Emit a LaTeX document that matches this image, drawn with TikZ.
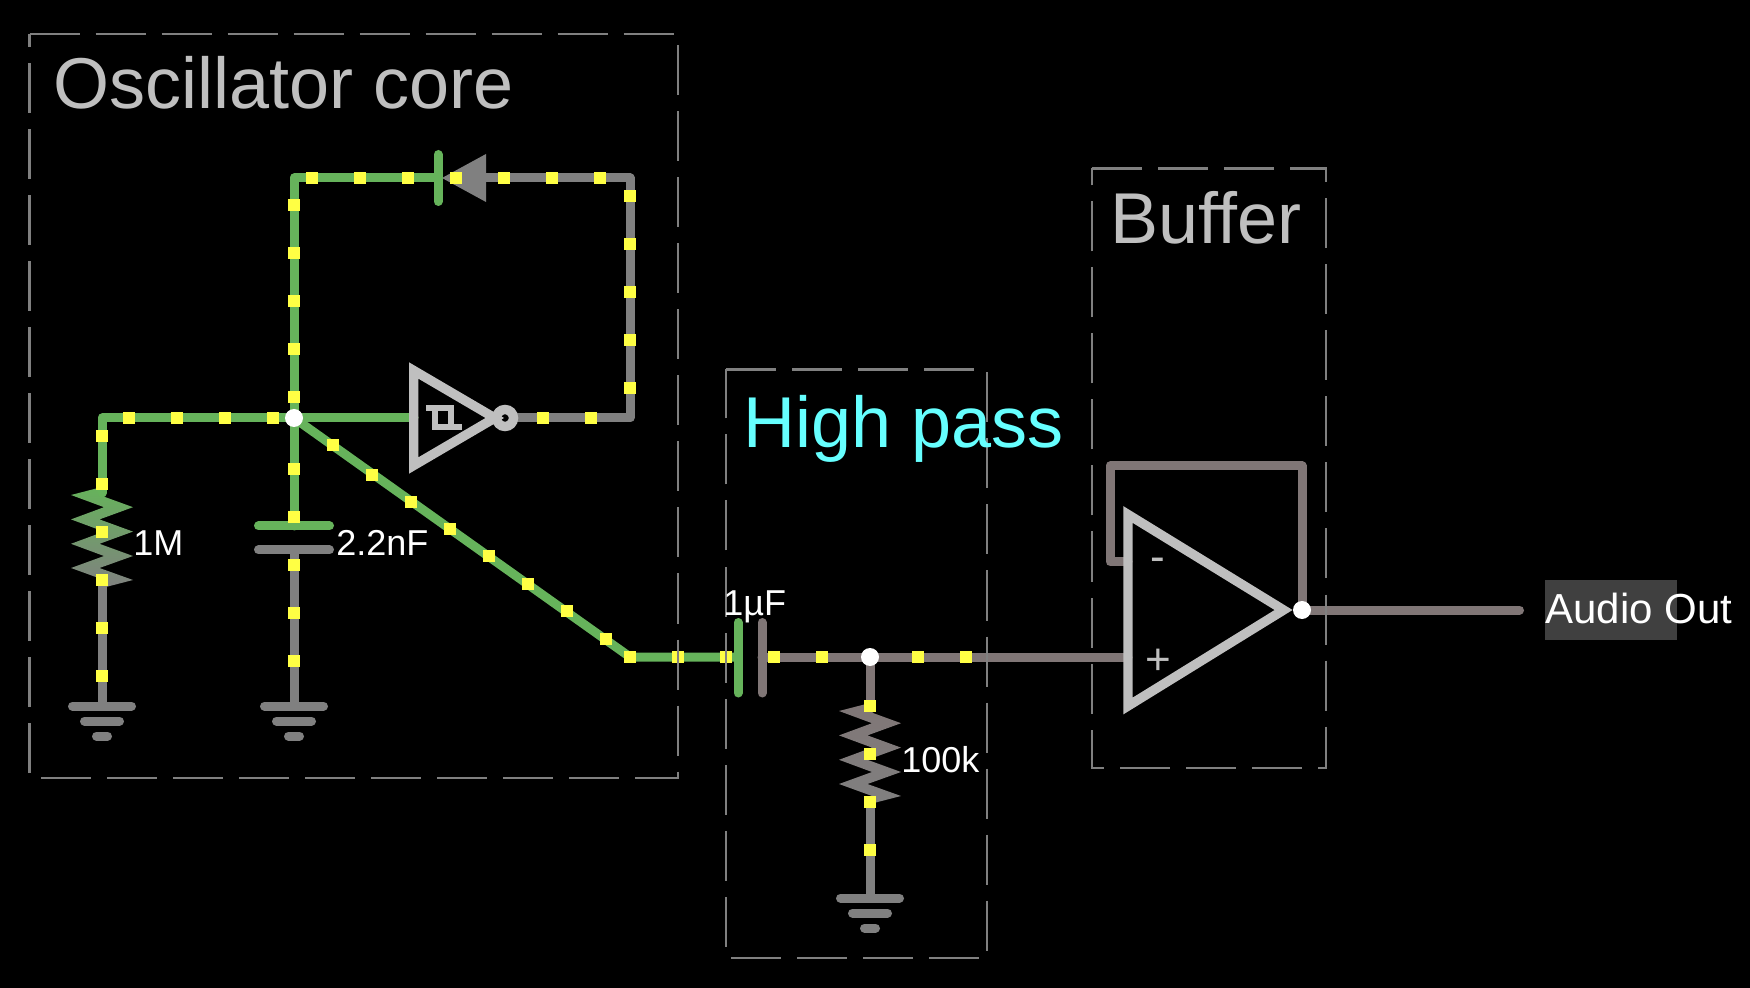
\documentclass[tikz,border=0pt]{standalone}
\usepackage{fontspec}
\setmainfont{Liberation Sans}
\usepackage{xcolor}
\usetikzlibrary{positioning,calc}
\definecolor{cGreen}{HTML}{66B35B}
\definecolor{cGrey}{HTML}{808080}
\definecolor{cTaupe}{HTML}{807676}
\definecolor{cPart}{HTML}{BFBFBF}
\definecolor{cDot}{HTML}{FFFF44}
\definecolor{cCyan}{HTML}{66FFFF}
\definecolor{cTag}{HTML}{404040}
\tikzset{
  wire/.style={draw=#1, line width=4.5pt, line cap=round, line join=round},
  part/.style={draw=cPart, line width=4.7pt, miter limit=10, fill=black},
  flowdot/.style={fill=cDot, minimum size=6pt, inner sep=0pt, outer sep=0pt},
  joint/.style={circle, fill=white, minimum size=9pt, inner sep=0pt},
  zone/.style={draw=cGrey, line width=1.2pt, dash pattern=on 25pt off 8pt},
  title/.style={anchor=base west, inner sep=0pt, text=cPart, font=\fontsize{36}{36}\selectfont},
  val/.style={anchor=base west, inner sep=0pt, text=white, font=\fontsize{18}{18}\selectfont},
  sign/.style={inner sep=0pt, text=cPart, font=\fontsize{22}{22}\selectfont},
}
\newcommand{\resistor}[5]{%
  \begin{scope}[shift={(#2,#3)}]
    \coordinate (#1top) at (0,-2); \coordinate (#1bot) at (0,90);
    \shade[top color=#4, bottom color=#5] (-31,0) -- (2,12.2) -- (-31,24.4) -- (2,36.6)
      -- (-31,48.8) -- (2,61) -- (-31,73) -- (2,85) -- (-4.5,87) -- (0,93) -- (31,85)
      -- (-2.5,73) -- (31,61) -- (-2.5,48.8) -- (31,36.6) -- (-2.5,24.4) -- (31,12.2)
      -- (-2.5,0) -- (4.5,-3) -- (0,-8) -- cycle;
  \end{scope}}
\newcommand{\gnd}[3]{%
  \begin{scope}[shift={(#2,#3)}]
    \coordinate (#1) at (0,0);
    \draw[wire=cGrey] (-29.5,0) -- (29.5,0) (-17.5,15) -- (17.5,15) (-5.5,30) -- (5.5,30);
  \end{scope}}

\begin{document}
\begin{tikzpicture}[x=0.5pt,y=-0.5pt]
\useasboundingbox (0,0) rectangle (1750,988);
\fill[black] (0,0) rectangle (1750,988);
% wire corners and pins
\coordinate (hub) at (294,418);
\coordinate (lcor) at (102,418);
\coordinate (tcor) at (294,178);
\coordinate (rcor) at (630,178);
\coordinate (bcor) at (630,418);
\coordinate (dcor) at (630,657);
\coordinate (c1a) at (294,526);
\coordinate (c1b) at (294,550);
\coordinate (c2a) at (738,657);
\coordinate (c2b) at (762,657);
\coordinate (tap) at (870,657);
\coordinate (dioa) at (438,178);
\coordinate (dioc) at (486,178);
\coordinate (invin) at (414,418);
\coordinate (invout) at (505,418);
\coordinate (ampp) at (1128,657);
\coordinate (ampm) at (1128,562);
\coordinate (fba) at (1110,562);
\coordinate (fbb) at (1110,466);
\coordinate (fbc) at (1302,466);
\coordinate (ampout) at (1302,610);
\coordinate (out) at (1519.5,610);
% parts
\resistor{ra}{102}{495}{cGreen}{cGrey}
\resistor{rb}{870}{711}{cTaupe}{cGrey}
\gnd{ga}{102}{706}
\gnd{gb}{294}{706}
\gnd{gc}{870}{898}
% nets
\draw[wire=cGreen] (ratop) -- (lcor) -- (hub) -- (tcor) -- (dioa);
\draw[wire=cGreen] (hub) -- (invin);
\draw[wire=cGreen] (hub) -- (c1a);
\draw[wire=cGreen] (hub) -- (dcor) -- (c2a);
\draw[wire=cGrey] (rabot) -- (ga);
\draw[wire=cGrey] (c1b) -- (gb);
\draw[wire=cGrey] (rbbot) -- (gc);
\draw[wire=cGrey] (invout) -- (bcor) -- (rcor) -- (dioc);
\draw[wire=cTaupe] (c2b) -- (ampp);
\draw[wire=cTaupe] (tap) -- (rbtop);
\draw[wire=cTaupe] (ampm) -- (fba) -- (fbb) -- (fbc) -- (ampout);
\draw[wire=cTaupe] (ampout) -- (out);
% plates
\draw[wire=cGreen] ($(c1a)+(-35.5,0)$) -- ($(c1a)+(35.5,0)$);
\draw[wire=cGrey] ($(c1b)+(-35.5,0)$) -- ($(c1b)+(35.5,0)$);
\draw[wire=cGreen] ($(c2a)+(0,-34.5)$) -- ($(c2a)+(0,36)$);
\draw[wire=cTaupe] ($(c2b)+(0,-34.5)$) -- ($(c2b)+(0,36)$);
\fill[cGrey] (442,178) -- (486,154) -- (486,202) -- cycle;
\draw[wire=cGreen] ($(dioa)+(0,-23.5)$) -- ($(dioa)+(0,23.5)$);
% inverter and amp
\draw[part] (invout) circle (8.5);
\draw[part, fill=none] (413.7,370.5) -- (494.8,418) -- (413.7,465.5) -- cycle;
\draw[cPart, line width=2.6pt] (426,408) -- (451,408) -- (451,427) (462,427) -- (435,427) -- (435,408);
\draw[part, fill=none] (1128,514.5) -- (1283.6,610) -- (1128,706) -- cycle;
\node[sign] (plus) at (1158,662) {+};
\node[sign] (minus) at (1158,565) {-};
% moving dots
\foreach \px in {129,177,225,273} \node[flowdot] (dh\px) at (\px,418) {};
\foreach \py in {436,484,532,580,628,676} \node[flowdot] (da\py) at (102,\py) {};
\foreach \py in {205,253,301,349,397,469,517,565,613,661} \node[flowdot] (db\py) at (294,\py) {};
\foreach \px in {312,360,408,456,504,552,600} \node[flowdot] (dt\px) at (\px,178) {};
\foreach \py in {196,244,292,340,388} \node[flowdot] (dr\py) at (630,\py) {};
\foreach \px in {543,591} \node[flowdot] (dl\px) at (\px,418) {};
\foreach \px/\py in {333/445,372/475,411/502,450/529,489/556,528/584,567/611,606/639} \node[flowdot] (dd\px) at (\px,\py) {};
\foreach \px in {630,678,726,774,822,918,966} \node[flowdot] (dc\px) at (\px,657) {};
\foreach \py in {706,754,802,850} \node[flowdot] (de\py) at (870,\py) {};
\node[joint] (hubdot) at (hub) {};
\node[joint] (tapdot) at (tap) {};
\node[joint] (outdot) at (ampout) {};
% zones
\draw[zone] (29.5,34) -- (678,34) -- (678,778) -- (29.5,778) -- cycle;
\draw[zone] (726,369.5) -- (987,369.5) -- (987,958) -- (726,958) -- cycle;
\draw[zone] (1092,168.5) -- (1326,168.5) -- (1326,768) -- (1092,768) -- cycle;
% labels
\node[title] (tosc) at (53.5,109) {Oscillator core};
\node[title, text=cCyan] (thp) at (743.5,447.5) {High pass};
\node[title] (tbuf) at (1110,244) {Buffer};
\node[val] (vra) at (133,555.5) {1M};
\node[val] (vca) at (336,555.5) {2.2nF};
\node[val] (vcb) at (723,615) {1µF};
\node[val] (vrb) at (901,772) {100k};
\node[fill=cTag, minimum width=66pt, minimum height=30pt, inner sep=0pt, anchor=north west] (tag) at (1545,580) {};
\node[anchor=base west, inner sep=0pt, text=white, font=\fontsize{21}{21}\selectfont] (vout) at (1545,623) {Audio Out};
\end{tikzpicture}
\end{document}
